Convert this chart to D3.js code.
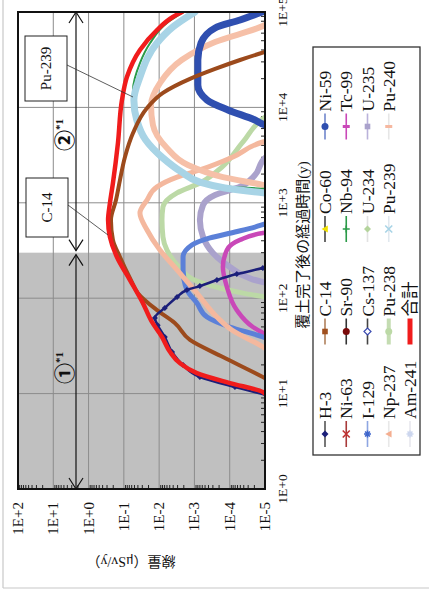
<!DOCTYPE html>
<html><head><meta charset="utf-8">
<script src="https://cdn.jsdelivr.net/npm/d3@7/dist/d3.min.js"></script>
<style>
html,body{margin:0;padding:0;background:#fff;overflow:hidden}
svg{display:block}
text{font-family:"Liberation Serif","Noto Sans CJK JP",serif;fill:#111}
</style></head><body>
<svg id="chart" width="429" height="590"></svg>
<script>
// ---------------- data ----------------
const timeTicks = [1, 10, 100, 1000, 10000, 100000];
const timeTickLabels = ["1E+0", "1E+1", "1E+2", "1E+3", "1E+4", "1E+5"];
const doseTicks = [100, 10, 1, 0.1, 0.01, 0.001, 0.0001, 0.00001];
const doseTickLabels = ["1E+2", "1E+1", "1E+0", "1E-1", "1E-2", "1E-3", "1E-4", "1E-5"];
const xTitle = "覆土完了後の経過時間(y)";
const yTitle = "線量（μSv/y）";
const periodBoundary = 300;           // years: end of period ①
const periodLabels = ["①", "②"];
const calloutLabels = ["Pu-239", "C-14"];
const legendNames = ["H-3", "C-14", "Co-60", "Ni-59",
                     "Ni-63", "Sr-90", "Nb-94", "Tc-99",
                     "I-129", "Cs-137", "U-234", "U-235",
                     "Np-237", "Pu-238", "Pu-239", "Pu-240",
                     "Am-241", "合計"];

// series: [years after cover completion, dose μSv/y]
const H3 = [[9.7,9.4e-6],[11.7,7.1e-5],[14.9,7.0e-4],[19.9,2.1e-3],[27.3,4.3e-3],[39.2,6.9e-3],[52,0.011],[62,0.0132],[79,6.9e-3],[103,3.1e-3],[122,1.63e-3],[134,7.0e-4],[155,2.3e-4],[179,6.3e-5],[207,1.15e-5],[218,6.4e-6]];
const C14 = [[13.6,7.3e-6],[14.9,1.15e-5],[24.2,1.56e-4],[36.5,1.34e-3],[55,3.6e-3],[75,0.0115],[113,0.040],[155,0.063],[270,0.129],[408,0.204],[661,0.232],[1070,0.167],[1730,0.129],[3020,0.093],[5390,0.055],[9860,0.022],[14200,7.8e-3],[19900,1.34e-3],[25300,2.6e-4],[31400,5.1e-5],[38100,1.0e-5],[40000,6.4e-6]];
const Ni59 = [[6240,6.4e-6],[6540,1.0e-5],[7380,1.93e-5],[9400,1.12e-4],[11970,4.4e-4],[17200,8.0e-4],[31400,8.0e-4],[47300,6.5e-4],[68000,2.6e-4],[82500,5.1e-5],[100000,1.22e-5]];
const Nb94 = [[1370,6.4e-6],[1400,1.0e-5],[1470,9.9e-5],[1650,7.0e-4],[2100,2.6e-3],[2950,9.5e-3],[4550,0.027],[9400,0.052],[15200,0.055],[29200,0.035],[47300,0.018],[76700,6.0e-3],[100000,1.98e-3]];
const Tc99 = [[39.2,7.3e-6],[43.2,1.15e-5],[49.9,2.2e-5],[75,6.3e-5],[131,1.2e-4],[212,1.56e-4],[320,1.2e-4],[408,5.1e-5],[482,1.15e-5],[494,7.3e-6]];
const I129 = [[36.5,7.3e-6],[39.2,1.15e-5],[49.9,9.9e-5],[63.5,4.4e-4],[89,8.5e-4],[122,1.63e-3],[198,2.1e-3],[270,2.1e-3],[361,1.18e-3],[428,3.6e-4],[494,7.1e-5],[557,1.93e-5],[600,1.0e-5],[630,6.4e-6]];
const U235 = [[144,7.3e-6],[148,1.15e-5],[167,3.3e-5],[212,9.9e-5],[298,3.0e-4],[439,5.7e-4],[661,7.0e-4],[948,5.7e-4],[1210,2.6e-4],[1470,5.1e-5],[1950,1.93e-5],[2950,1.0e-5],[3100,7.3e-6]];
const Np237 = [[27.3,7.3e-6],[30.8,1.15e-5],[46.4,8.7e-5],[63.5,2.3e-4],[113,8.5e-4],[198,3.1e-3],[320,9.5e-3],[519,0.022],[782,0.035],[1070,0.022],[1470,0.0115],[1860,3.1e-3],[2210,7.0e-4],[3020,8.1e-5],[4340,1.15e-5],[4550,7.3e-6]];
const Pu238 = [[100,6.4e-6],[103,1.0e-5],[113,4.2e-5],[128,1.9e-4],[151,8.5e-4],[208,2.6e-3],[320,6.0e-3],[439,7.8e-3],[661,8.3e-3],[904,7.8e-3],[1270,3.1e-3],[1610,7.0e-4],[2370,1.66e-4],[4340,4.2e-5],[7930,1.0e-5],[8530,7.3e-6]];
const Pu239 = [[1250,6.4e-6],[1270,1.0e-5],[1430,1.37e-4],[1650,7.0e-4],[2100,2.3e-3],[2950,7.8e-3],[4550,0.024],[7380,0.043],[11970,0.052],[20800,0.035],[47300,0.0115],[69600,4.1e-3],[100000,9.7e-4]];
const Pu240 = [[1470,6.4e-6],[1540,1.15e-5],[1860,1.56e-4],[2490,1.53e-3],[3750,6.0e-3],[6540,0.015],[10600,0.017],[18000,9.5e-3],[31400,2.3e-3],[48500,2.6e-4],[71300,1.15e-5],[78500,7.3e-6]];
const Total = [[8.6,7.3e-6],[10.4,1.15e-5],[12.9,9.9e-5],[16.4,8.5e-4],[20.9,2.6e-3],[27.3,4.9e-3],[39.2,8.3e-3],[56.4,0.016],[89,0.029],[155,0.067],[270,0.157],[439,0.248],[661,0.28],[995,0.248],[1610,0.204],[4240,0.147],[11970,0.113],[20800,0.082],[40000,0.035],[64700,0.0115],[88700,0.0041],[100000,0.00226]];
// nuclides listed in the legend whose curves stay below the plotted range
const Co60 = [], Ni63 = [], Sr90 = [], Cs137 = [], U234 = [], Am241 = [];

const seriesData = {
  "H-3": H3, "C-14": C14, "Co-60": Co60, "Ni-59": Ni59, "Ni-63": Ni63, "Sr-90": Sr90,
  "Nb-94": Nb94, "Tc-99": Tc99, "I-129": I129, "Cs-137": Cs137, "U-234": U234, "U-235": U235,
  "Np-237": Np237, "Pu-238": Pu238, "Pu-239": Pu239, "Pu-240": Pu240, "Am-241": Am241, "合計": Total
};

// ---------------- styles ----------------
const styles = {
  "H-3":   {color:"#1b1f7a", width:2.5, marker:"diamond", mcolor:"#1b1f7a", lcolor:"#555", curveMarks:true},
  "C-14":  {color:"#9c4a1c", width:4,   marker:"square",  mcolor:"#a0501e", lcolor:"#b0805c"},
  "Co-60": {color:"#333",    width:2,   marker:"triangle",mcolor:"#f0e000", lcolor:"#444"},
  "Ni-59": {color:"#2f4fb0", width:7,   marker:"circle",  mcolor:"#2f4fb0", lcolor:"#7086cc"},
  "Ni-63": {color:"#a02020", width:2,   marker:"x",       mcolor:"#c03030", lcolor:"#a83a3a"},
  "Sr-90": {color:"#7a0a0a", width:2,   marker:"circle",  mcolor:"#7a0a0a", lcolor:"#333"},
  "Nb-94": {color:"#2a9a48", width:2,   marker:"plus",    mcolor:"#2a9a48", lcolor:"#2a9a48"},
  "Tc-99": {color:"#c948b8", width:4.5, marker:"bar",     mcolor:"#c948b8", lcolor:"#c948b8"},
  "I-129": {color:"#5b80d8", width:5,   marker:"star",    mcolor:"#3f66cc", lcolor:"#8ea6e2"},
  "Cs-137":{color:"#3a4ab0", width:2,   marker:"odiamond",mcolor:"#3a4ab0", lcolor:"#444"},
  "U-234": {color:"#bcd9a6", width:2,   marker:"diamond", mcolor:"#b4d49c", lcolor:"#e2e2e2"},
  "U-235": {color:"#aaa2cc", width:6,   marker:"square",  mcolor:"#aaa2cc", lcolor:"#bab2da"},
  "Np-237":{color:"#f4b89e", width:5,   marker:"triangle",mcolor:"#f4ae90", lcolor:"#e8e8e8"},
  "Pu-238":{color:"#bcd9a6", width:5,   marker:"circle",  mcolor:"#bcd9a6", lcolor:"#c4dcb2", lwidth:4},
  "Pu-239":{color:"#a8d4e6", width:7,   marker:"x",       mcolor:"#a8d4e6", lcolor:"#e0e8ee"},
  "Pu-240":{color:"#f6c0a8", width:6,   marker:"bar",     mcolor:"#f6b8a0", lcolor:"#e6e6e6"},
  "Am-241":{color:"#d4dcf0", width:2,   marker:"star",    mcolor:"#ccd6ee", lcolor:"#e8e8ee"},
  "合計":  {color:"#f01c1c", width:4.5, marker:"none",    mcolor:"#f01c1c", lcolor:"#f01c1c", lwidth:5}
};
const drawOrder = ["Pu-238","U-235","Tc-99","I-129","Np-237","Pu-240","Ni-59","Nb-94","Pu-239","C-14","H-3","合計"];

// ---------------- layout (unrotated frame 590 x 429, then turned -90°) ----------------
const W = 590;
const plot = {l:101, r:578, t:18, b:265};
const svg = d3.select("#chart");
const root = svg.append("g").attr("transform", `translate(0,${W}) rotate(-90)`);

const x = d3.scaleLog().domain([1, 1e5]).range([plot.l, plot.r]);
const y = d3.scaleLog().domain([1e-5, 1e2]).range([plot.b, plot.t]);

// outer light frame
root.append("line").attr("x1",2).attr("x2",600).attr("y1",3).attr("y2",3).attr("stroke","#c8c8c8").attr("stroke-width",1.2);
root.append("line").attr("x1",2).attr("x2",2).attr("y1",3).attr("y2",440).attr("stroke","#c8c8c8").attr("stroke-width",1.2);

// shaded period ①
root.append("rect").attr("x", x(1)).attr("y", plot.t)
  .attr("width", x(periodBoundary) - x(1)).attr("height", plot.b - plot.t).attr("fill", "#c0c0c0");

// grid
const grid = root.append("g").attr("stroke", "#8c8c8c").attr("stroke-width", 1);
timeTicks.forEach(t => grid.append("line").attr("x1", x(t)).attr("x2", x(t)).attr("y1", plot.t).attr("y2", plot.b));
doseTicks.forEach(d => grid.append("line").attr("x1", plot.l).attr("x2", plot.r).attr("y1", y(d)).attr("y2", y(d)));

// minor ticks
const ticksG = root.append("g").attr("stroke", "#222").attr("stroke-width", 1);
for (let k = 0; k < 5; k++) for (let m = 2; m <= 9; m++) {
  const u = x(m * Math.pow(10, k));
  ticksG.append("line").attr("x1", u).attr("x2", u).attr("y1", plot.b).attr("y2", plot.b - 4);
}
for (let k = -5; k < 2; k++) for (let m = 2; m <= 9; m++) {
  const v = y(m * Math.pow(10, k));
  ticksG.append("line").attr("x1", plot.l).attr("x2", plot.l + 4).attr("y1", v).attr("y2", v);
}

// clip
svg.append("defs").append("clipPath").attr("id", "pc").append("rect")
  .attr("x", plot.l).attr("y", plot.t).attr("width", plot.r - plot.l).attr("height", plot.b - plot.t);

// marker shapes
function marker(g, type, cx, cy, s, color) {
  const m = g.append("g").attr("transform", `translate(${cx},${cy})`);
  const h = s / 2;
  switch (type) {
    case "diamond": m.append("path").attr("d", `M0,${-h}L${h},0L0,${h}L${-h},0Z`).attr("fill", color); break;
    case "odiamond": m.append("path").attr("d", `M0,${-h}L${h},0L0,${h}L${-h},0Z`).attr("fill", "#fff").attr("stroke", color).attr("stroke-width", 1.2); break;
    case "square": m.append("rect").attr("x", -h * 0.8).attr("y", -h * 0.8).attr("width", s * 0.8).attr("height", s * 0.8).attr("fill", color); break;
    case "circle": m.append("circle").attr("r", h).attr("fill", color); break;
    case "triangle": m.append("path").attr("d", `M0,${-h}L${h},${h * 0.8}L${-h},${h * 0.8}Z`).attr("fill", color); break;
    case "x": m.append("path").attr("d", `M${-h},${-h}L${h},${h}M${-h},${h}L${h},${-h}`).attr("stroke", color).attr("stroke-width", 1.6); break;
    case "plus": m.append("path").attr("d", `M${-h},0L${h},0M0,${-h}L0,${h}`).attr("stroke", color).attr("stroke-width", 1.6); break;
    case "star": m.append("path").attr("d", `M${-h},0L${h},0M0,${-h}L0,${h}M${-h*0.7},${-h*0.7}L${h*0.7},${h*0.7}M${-h*0.7},${h*0.7}L${h*0.7},${-h*0.7}`).attr("stroke", color).attr("stroke-width", 1.5); break;
    case "bar": m.append("rect").attr("x", -1.5).attr("y", -h).attr("width", 3).attr("height", s).attr("fill", color); break;
  }
}

// curves
const curves = root.append("g").attr("clip-path", "url(#pc)");
const line = d3.line().x(d => x(d[0])).y(d => y(d[1])).curve(d3.curveMonotoneX);
drawOrder.forEach(name => {
  const data = seriesData[name], st = styles[name];
  if (!data.length) return;
  curves.append("path").datum(data).attr("d", line).attr("fill", "none")
    .attr("stroke", st.color).attr("stroke-width", st.width)
    .attr("stroke-linejoin", "round").attr("stroke-linecap", "round");
  if (st.curveMarks) data.forEach(d => marker(curves, st.marker, x(d[0]), y(d[1]), 6, st.mcolor));
});

// frame
root.append("rect").attr("x", plot.l).attr("y", plot.t).attr("width", plot.r - plot.l).attr("height", plot.b - plot.t)
  .attr("fill", "none").attr("stroke", "#111").attr("stroke-width", 2);

// tick labels
timeTicks.forEach((t, i) => root.append("text").attr("x", x(t)).attr("y", 287)
  .attr("text-anchor", "middle").attr("font-size", 13.5).text(timeTickLabels[i]));
doseTicks.forEach((d, i) => root.append("text").attr("x", 88).attr("y", y(d))
  .attr("text-anchor", "end").attr("dominant-baseline", "central").attr("font-size", 15).text(doseTickLabels[i]));

// axis titles
root.append("text").attr("x", 345).attr("y", 308).attr("text-anchor", "middle").attr("font-size", 15).text(xTitle);
root.append("text").attr("transform", "translate(33,131) rotate(-90)").attr("text-anchor", "middle")
  .attr("font-size", 14).text(yTitle);

// period arrows
const av = 76, ab = x(periodBoundary);
const ann = root.append("g").attr("stroke", "#111").attr("stroke-width", 1.2).attr("fill", "none");
function arrow(u1, u2) {
  ann.append("line").attr("x1", u1).attr("x2", u2).attr("y1", av).attr("y2", av);
  ann.append("path").attr("d", `M${u1 + 11},${av - 7}L${u1},${av}L${u1 + 11},${av + 7}`);
  ann.append("path").attr("d", `M${u2 - 11},${av - 7}L${u2},${av}L${u2 - 11},${av + 7}`);
}
arrow(plot.l, ab - 2);
arrow(ab + 2, plot.r);
[[206, periodLabels[0]], [439, periodLabels[1]]].forEach(([u, lab]) => {
  const t = root.append("text").attr("x", u).attr("y", 72).attr("font-size", 21).attr("font-weight", "bold");
  t.append("tspan").text(lab);
  t.append("tspan").attr("dy", -9).attr("font-size", 11).text("*1");
});

// callout boxes
function callout(u1, u2, v1, v2, label, lx1, ly1, lx2, ly2) {
  root.append("line").attr("x1", lx1).attr("y1", ly1).attr("x2", lx2).attr("y2", ly2).attr("stroke", "#333").attr("stroke-width", 0.8);
  root.append("rect").attr("x", u1).attr("y", v1).attr("width", u2 - u1).attr("height", v2 - v1)
    .attr("fill", "#fff").attr("stroke", "#222").attr("stroke-width", 1);
  root.append("text").attr("x", (u1 + u2) / 2).attr("y", (v1 + v2) / 2).attr("text-anchor", "middle")
    .attr("dominant-baseline", "central").attr("font-size", 15).text(label);
}
callout(489, 554, 25, 67, calloutLabels[0], 525, 67, 493, 133);
callout(353, 412, 26, 68, calloutLabels[1], 385, 68, 355, 108);

// legend
const leg = root.append("g");
leg.append("rect").attr("x", 135).attr("y", 313).attr("width", 408).attr("height", 107)
  .attr("fill", "#fff").attr("stroke", "#333").attr("stroke-width", 1.3);
legendNames.forEach((name, i) => {
  const r = Math.floor(i / 4), c = i % 4;
  const u0 = 143 + c * 102.5, v = 325 + r * 21.25;
  const st = styles[name];
  leg.append("line").attr("x1", u0).attr("x2", u0 + 26).attr("y1", v).attr("y2", v)
    .attr("stroke", st.lcolor).attr("stroke-width", st.lwidth || 1.6);
  if (st.marker !== "none") marker(leg, st.marker, u0 + 13, v, 7, st.mcolor);
  leg.append("text").attr("x", u0 + 28).attr("y", v).attr("dominant-baseline", "central")
    .attr("font-size", 17.5).text(name);
});
</script>
</body></html>
